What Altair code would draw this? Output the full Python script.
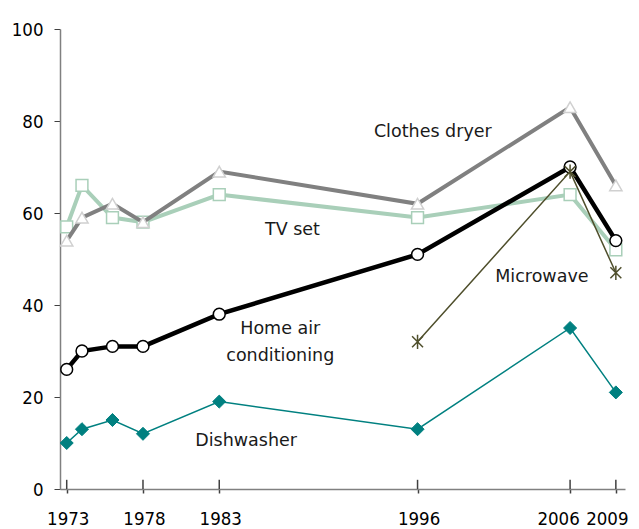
import altair as alt
import pandas as pd

years = [1973, 1974, 1976, 1978, 1983, 1996, 2006, 2009]
clothes_dryer = [54, 59, 62, 58, 69, 62, 83, 66]
tv_set = [57, 66, 59, 58, 64, 59, 64, 52]
home_ac = [26, 30, 31, 31, 38, 51, 70, 54]
microwave = [None, None, None, None, None, 32, 69, 47]
dishwasher = [10, 13, 15, 12, 19, 13, 35, 21]

tick_years = [1973, 1978, 1983, 1996, 2006, 2009]
y_ticks = [0, 20, 40, 60, 80, 100]

label_text = ["Clothes dryer", "TV set", ["Home air", "conditioning"], "Microwave", "Dishwasher"]
label_year = [1997.0, 1987.8, 1987.0, 2004.15, 1984.76]
label_value = [77.7, 56.2, 34.8, 46.0, 10.35]

TICK_FONT = "DejaVu Sans Condensed, Liberation Sans, sans-serif"
LABEL_FONT = "DejaVu Sans, Verdana, sans-serif"

series = {
    "Clothes dryer": clothes_dryer,
    "TV set": tv_set,
    "Home air conditioning": home_ac,
    "Microwave": microwave,
    "Dishwasher": dishwasher,
}
rows = []
for name, vals in series.items():
    for yr, v in zip(years, vals):
        if v is not None:
            rows.append({"series": name, "year": yr, "value": v})
df = pd.DataFrame(rows)

xscale = alt.Scale(domain=[1972.56, 2009.6], nice=False, zero=False)
yscale = alt.Scale(domain=[0, 100], nice=False)

xaxis = alt.Axis(values=tick_years, format="d", grid=False, tickSize=4, tickWidth=1.5,
                 tickColor="#404040", domainColor="#808080", domainWidth=1.5,
                 labelFont=TICK_FONT, labelFontSize=18.5, labelColor="#000000", labelPadding=16,
                 labelOverlap=False, labelBound=False, labelFlush=False, title=None,
                 labelOffset={"condition": [{"test": "datum.value == 2006", "value": -12},
                                            {"test": "datum.value == 2009", "value": -9}],
                              "value": 1})
yaxis = alt.Axis(values=y_ticks, grid=False, tickSize=6, tickWidth=1,
                 tickColor="#404040", domainColor="#808080", domainWidth=1.5,
                 labelFont=TICK_FONT, labelFontSize=18.5, labelColor="#000000", labelPadding=11,
                 title=None)


def X(field="year"):
    return alt.X(f"{field}:Q", scale=xscale, axis=xaxis, title=None)


def Y(field="value"):
    return alt.Y(f"{field}:Q", scale=yscale, axis=yaxis, title=None)


base = alt.Chart(df)

styles = [
    # name, line color, line width, shape, size, fill, stroke, strokeWidth
    ("TV set", "#a9cfb9", 4, "square", 140, "#ffffff", "#a9cfb9", 1.5),
    ("Clothes dryer", "#808080", 4, "triangle-up", 150, "#ffffff", "#d0d0d0", 1.5),
    ("Home air conditioning", "#000000", 4.5, "circle", 140, "#ffffff", "#000000", 1.5),
    ("Microwave", "#4f4f2c", 1.5, "M-1,-1L1,1M-1,1L1,-1M0,-1.3L0,1.3", 120, None, "#4f4f2c", 1.5),
    ("Dishwasher", "#008080", 1.5, "diamond", 170, "#008080", "#008080", 1),
]

# inner part of x ticks (ticks cross the axis)
tick_df = pd.DataFrame({"year": tick_years})
inner_ticks = alt.Chart(tick_df).transform_calculate(lo="0", hi="2").mark_rule(
    color="#404040", strokeWidth=1.5).encode(x=X(), y=Y("lo"), y2="hi:Q")

layers = [inner_ticks]
for name, lc, lw, shape, size, fill, stroke, sw in styles:
    sub = base.transform_filter(alt.datum.series == name)
    layers.append(sub.mark_line(color=lc, strokeWidth=lw).encode(x=X(), y=Y()))
    if fill is None:
        pt = sub.mark_point(shape=shape, size=size, filled=False, stroke=stroke,
                            strokeWidth=sw, opacity=1)
    else:
        pt = sub.mark_point(shape=shape, size=size, filled=True, fill=fill, stroke=stroke,
                            strokeWidth=sw, opacity=1)
    layers.append(pt.encode(x=X(), y=Y()))

lab_df = pd.DataFrame({"text": label_text, "year": label_year, "value": label_value})
labels = alt.Chart(lab_df).mark_text(font=LABEL_FONT, fontSize=17.5, color="#1a1a1a",
                                     align="center", baseline="middle", lineHeight=27).encode(
    x=X(), y=Y(), text="text")
layers.append(labels)

chart = alt.layer(*layers).properties(
    width=565, height=460,
    autosize=alt.AutoSizeParams(type="none"),
    padding={"left": 52, "top": 21, "right": 6, "bottom": 40},
).configure_view(stroke=None)

chart.save("out.html", embed_options={"renderer": "svg", "actions": False})
